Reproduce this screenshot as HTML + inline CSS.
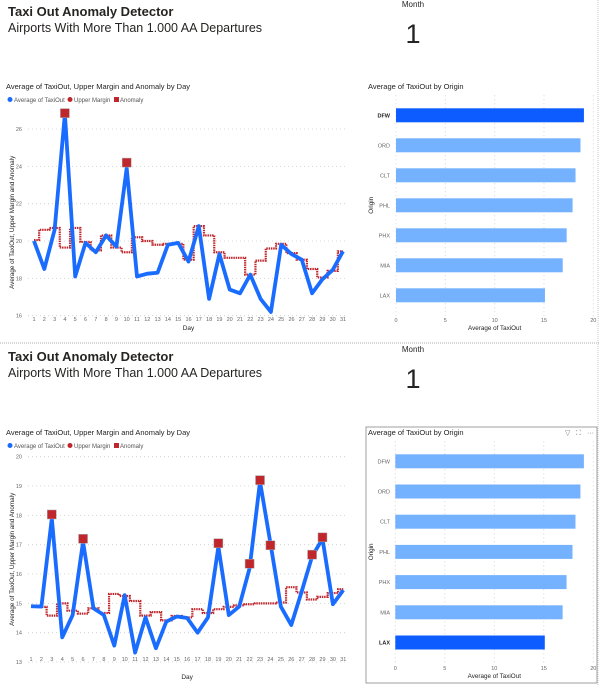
<!DOCTYPE html>
<html><head><meta charset="utf-8">
<style>
body{margin:0;background:#fff;width:600px;height:685px;overflow:hidden;font-family:"Liberation Sans",sans-serif;}
svg{display:block}
text{font-family:"Liberation Sans",sans-serif;}
</style></head>
<body>
<svg id="s" width="600" height="685" viewBox="0 0 600 685"></svg>
<script>
const days=[1,2,3,4,5,6,7,8,9,10,11,12,13,14,15,16,17,18,19,20,21,22,23,24,25,26,27,28,29,30,31];
const avg1=[20.0,18.5,20.6,26.8,18.1,19.9,19.4,20.3,19.7,23.9,18.1,18.25,18.3,19.8,19.9,18.9,20.8,16.9,19.3,17.4,17.2,18.2,16.9,16.2,19.8,19.3,19.0,17.2,17.95,18.45,19.45];
const upper1=[20.05,20.6,20.7,19.65,20.7,19.95,19.5,20.3,19.65,19.4,20.2,20.0,19.8,19.85,19.85,19.0,20.8,20.3,19.4,19.1,19.1,18.2,18.95,19.6,19.85,19.35,19.0,18.5,18.05,18.4,19.45];
const anomDays1=[4,10];
const anomVals1=[26.85,24.2];
const yTicks1=[16,18,20,22,24,26];
const avg2=[14.9,14.89,17.9,13.84,14.6,17.1,14.83,14.6,13.56,15.28,13.32,14.52,13.47,14.38,14.55,14.5,14.0,14.52,16.93,14.6,14.89,16.2,19.15,17.05,14.89,14.26,15.4,16.6,17.2,14.97,15.45];
const upper2=[14.9,14.88,14.58,15.0,14.75,14.65,14.83,14.67,15.32,15.25,15.08,14.58,14.7,14.42,14.57,14.52,14.8,14.67,14.8,14.88,14.93,14.97,15.0,15.0,15.03,15.55,15.37,15.13,15.22,15.35,15.48];
const anomDays2=[3,6,19,22,23,24,28,29];
const anomVals2=[18.03,17.2,17.05,16.35,19.2,16.98,16.66,17.25];
const yTicks2=[13,14,15,16,17,18,19,20];
const origins=["DFW","ORD","CLT","PHL","PHX","MIA","LAX"];
const originVals=[19.05,18.7,18.2,17.9,17.3,16.9,15.1];
const barTicks=[0,5,10,15,20];

const S=document.getElementById('s');
const NS='http://www.w3.org/2000/svg';
function mk(tag,attrs,parent){const e=document.createElementNS(NS,tag);for(const k in attrs)e.setAttribute(k,attrs[k]);(parent||S).appendChild(e);return e;}
function txt(x,y,str,size,opts,parent){const o=Object.assign({x:x,y:y,'font-size':size,fill:'#252423'},opts||{});const t=mk('text',o,parent);t.textContent=str;return t;}

function header(y0){
  const g=mk('g',{});
  
  
  let t=txt(8,y0+16,'Taxi Out Anomaly Detector',13,{'font-weight':'bold'},g);
  
  
  t=txt(8,y0+32,'Airports With More Than 1.000 AA Departures',12.5,{},g);
  
  
  t=txt(413,y0+7,'Month',8,{'text-anchor':'middle'},g);
  
  
  t=txt(413,y0+43,'1',27,{'text-anchor':'middle'},g);
  
  
}

function lineChart(y0,ymin,ymax,yTopPx,yBotPx,x1,x31,ticks,avg,upper,aDays,aVals,titleY,tickLabY,dayY){
  const g=mk('g',{});
  
  
  const X=d=>x1+(d-1)*(x31-x1)/30;
  const Y=v=>yBotPx-(v-ymin)*(yBotPx-yTopPx)/(ymax-ymin);
  let t=txt(6,titleY,'Average of TaxiOut, Upper Margin and Anomaly by Day',7.5,{},g);
  
  
  const lg=mk('g',{},g);
  
  
  const ly=titleY+13;
  mk('circle',{cx:10,cy:ly-2.5,r:2.5,fill:'#1a6cff'},lg);
  txt(14,ly,'Average of TaxiOut',6,{fill:'#555'},lg);
  mk('circle',{cx:70,cy:ly-2.5,r:2.5,fill:'#c0272d'},lg);
  txt(74,ly,'Upper Margin',6,{fill:'#555'},lg);
  mk('rect',{x:114,y:ly-5,width:5,height:5,fill:'#c0272d'},lg);
  txt(120,ly,'Anomaly',6,{fill:'#555'},lg);
  ticks.forEach(v=>{
    const l=mk('line',{x1:28,x2:346,y1:Y(v),y2:Y(v),stroke:'#ccc','stroke-width':0.8,'stroke-dasharray':'1,3'},g);
    
    
    const tl=txt(22,Y(v)+2,String(v),5.5,{'text-anchor':'end',fill:'#666'},g);
    
    
  });
  days.forEach(d=>{
    const tl=txt(X(d),tickLabY,String(d),5.5,{'text-anchor':'middle',fill:'#666'},g);
    
    
  });
  t=txt((x1+x31)/2,dayY,'Day',6.5,{'text-anchor':'middle'},g);
  
  
  const cy=(yTopPx+yBotPx)/2;
  t=txt(0,0,'Average of TaxiOut, Upper Margin and Anomaly',6.3,{'text-anchor':'middle',transform:'translate(14,'+cy+') rotate(-90)'},g);
  
  
  let p='';
  days.forEach((d,i)=>{
    const xs=i===0?X(d):X(d)-(x31-x1)/60;
    const xe=i===days.length-1?X(d):X(d)+(x31-x1)/60;
    p+=(i===0?'M':'L')+xs+','+Y(upper[i])+'L'+xe+','+Y(upper[i]);
  });
  const um=mk('path',{d:p,fill:'none',stroke:'#c0272d','stroke-width':2.2,'stroke-dasharray':'1.5,0.8'},g);
  
  
  const pts=days.map((d,i)=>X(d)+','+Y(avg[i])).join(' ');
  const al=mk('polyline',{points:pts,fill:'none',stroke:'#1a6cff','stroke-width':3.8,'stroke-linejoin':'round'},g);
  
  
  aDays.forEach((d,i)=>{
    const r=mk('rect',{x:X(d)-4.5,y:Y(aVals[i])-4.5,width:9,height:9,fill:'#c0272d',stroke:'#a8a8a8','stroke-width':0.5},g);
    
    
  });
}

function barChart(y0,x0,x20,centers,titleY,tickY,titleAxY,highlight,frame){
  const g=mk('g',{});
  
  
  if(frame){
    const f=mk('rect',{x:366,y:427,width:231,height:256,fill:'none',stroke:'#888','stroke-width':0.8},g);
    
    
    let ic=txt(565,titleY,'▽',7,{fill:'#777'},g);
    
    
    ic=txt(576,titleY,'⛶',7,{fill:'#777'},g);
    
    
    ic=txt(587,titleY,'···',7,{fill:'#777'},g);
    
    
  }
  const X=v=>x0+v*(x20-x0)/20;
  let t=txt(368,titleY,'Average of TaxiOut by Origin',7.5,{},g);
  
  
  barTicks.forEach(v=>{
    const l=mk('line',{x1:X(v),x2:X(v),y1:centers[0]-20,y2:tickY-6,stroke:'#ccc','stroke-width':0.8,'stroke-dasharray':'1,3'},g);
    
    
    const tl=txt(X(v),tickY,String(v),5.5,{'text-anchor':'middle',fill:'#666'},g);
    
    
  });
  origins.forEach((o,i)=>{
    const c=centers[0]+i*(centers[1]-centers[0]);
    const b=mk('rect',{x:X(0),y:c-7,width:X(originVals[i])-X(0),height:14,fill:i===highlight?'#0d5cff':'#74b2ff'},g);
    
    
    const tl=txt(390,c+2,o,5.5,{'text-anchor':'end',fill:i===highlight?'#222':'#666','font-weight':i===highlight?'bold':'normal'},g);
    
    
  });
  t=txt((x0+x20)/2,titleAxY,'Average of TaxiOut',6.3,{'text-anchor':'middle'},g);
  
  
  const my=(centers[0]+centers[0]+6*(centers[1]-centers[0]))/2;
  t=txt(0,0,'Origin',6.3,{'text-anchor':'middle',transform:'translate(373,'+my+') rotate(-90)'},g);
  
  
}

header(0);
lineChart(0,16,26,129,315.7,34,343,yTicks1,avg1,upper1,anomDays1,anomVals1,89,321,330);
barChart(0,396,593.3,[115.3,145.3],89,322,330,0,false);
const sep=mk('line',{x1:0,x2:600,y1:343,y2:343,stroke:'#999','stroke-width':0.8,'stroke-dasharray':'1,1'});


const rb=mk('line',{x1:598,x2:598,y1:0,y2:685,stroke:'#bbb','stroke-width':0.8,'stroke-dasharray':'1,1'});


header(345);
lineChart(345,13,20,456.7,662,31,343.3,yTicks2,avg2,upper2,anomDays2,anomVals2,435,661,679);
barChart(345,395.3,593.3,[461.3,491.5],435,670,678,6,true);
</script>
</body></html>
